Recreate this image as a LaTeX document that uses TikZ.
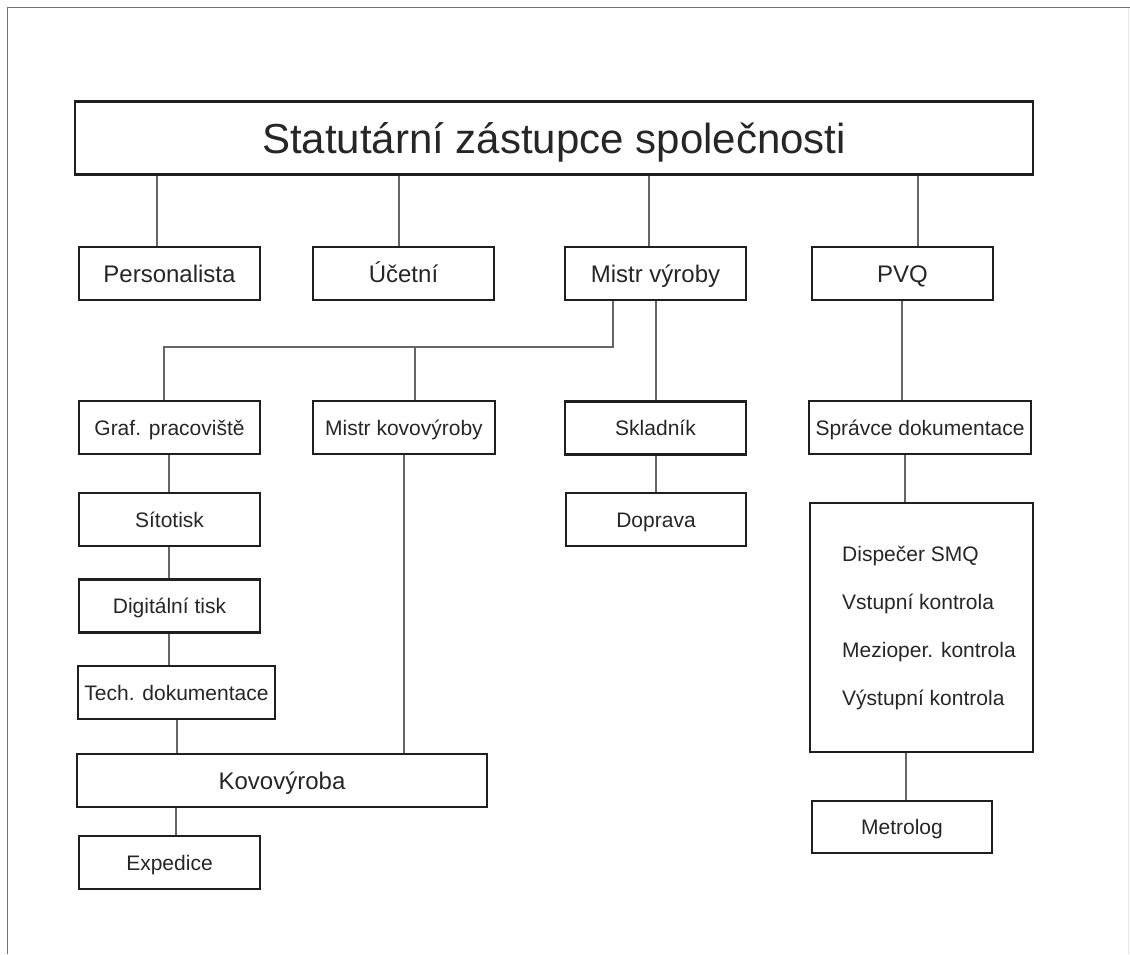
\documentclass[tikz,border=0pt]{standalone}
\usepackage{fontspec}
\setmainfont{Liberation Sans}
\begin{document}
\begin{tikzpicture}[x=1pt,y=-1pt,
  box/.style={draw=black!88,line width=2.6pt,inner sep=0pt,rectangle,text=black!85},
  big/.style={font=\fontsize{24}{28}\selectfont,text height=17.2pt,text depth=0pt},
  small/.style={font=\fontsize{21}{25}\selectfont,text height=15.1pt,text depth=0pt},
  conn/.style={draw=black!60,line width=1.1pt},
  frame/.style={draw=black!55,line width=1pt}]
\useasboundingbox (0,0) rectangle (1130,954);
\draw[frame] (7,954) -- (7,7) -- (1130,7);
\draw[draw=black!10,line width=0.8pt] (1128,8) -- (1128,954);

\node[box,minimum width=958pt,minimum height=73pt,font=\fontsize{42}{48}\selectfont,text height=30.1pt,text depth=0pt] (title) at (554,138) {Statutární zástupce společnosti};

\node[box,big,minimum width=181pt,minimum height=53pt] (personal) at (169.5,273.5) {Personalista};
\node[box,big,minimum width=181pt,minimum height=53pt] (ucetni) at (403.5,273.5) {Účetní};
\node[box,big,minimum width=181pt,minimum height=53pt] (mistr) at (655.5,273.5) {Mistr výroby};
\node[box,big,minimum width=181pt,minimum height=53pt] (pvq) at (902.5,273.5) {PVQ};

\node[box,small,minimum width=181pt,minimum height=53pt] (graf) at (169.5,427.5) {Graf. pracoviště};
\node[box,small,minimum width=182pt,minimum height=53pt] (mkov) at (404,427.5) {Mistr kovovýroby};
\node[box,small,minimum width=181pt,minimum height=53pt] (sklad) at (655.5,428) {Skladník};
\node[box,small,minimum width=222pt,minimum height=53pt] (spravce) at (920,427.5) {Správce dokumentace};

\node[box,small,minimum width=181pt,minimum height=53pt] (sito) at (169.5,519.5) {Sítotisk};
\node[box,small,minimum width=181pt,minimum height=53pt] (digi) at (169.5,606) {Digitální tisk};
\node[box,small,minimum width=197pt,minimum height=53pt] (tech) at (176.5,692.5) {Tech. dokumentace};
\node[box,big,minimum width=410pt,minimum height=53pt] (kovo) at (282,780.5) {Kovovýroba};
\node[box,small,minimum width=181pt,minimum height=53pt] (exped) at (169.5,862.5) {Expedice};

\node[box,small,minimum width=180pt,minimum height=53pt] (doprava) at (656,519.5) {Doprava};

\node[box,minimum width=223pt,minimum height=249pt] (smq) at (921.5,627.5) {};
\node[small,anchor=base west,inner sep=0pt,text=black!85] (t1) at (842,561.5) {Dispečer SMQ};
\node[small,anchor=base west,inner sep=0pt,text=black!85] (t2) at (842,609.5) {Vstupní kontrola};
\node[small,anchor=base west,inner sep=0pt,text=black!85] (t3) at (842,657.5) {Mezioper. kontrola};
\node[small,anchor=base west,inner sep=0pt,text=black!85] (t4) at (842,705.5) {Výstupní kontrola};

\node[box,small,minimum width=180pt,minimum height=52pt] (metro) at (902,827) {Metrolog};

% junction coordinates
\coordinate (j1) at (613,347);
\coordinate (j2) at (164,347);
\coordinate (j3) at (415,347);

\draw[conn] (title.south -| 157,0) -- (personal.north -| 157,0);
\draw[conn] (title.south -| 399,0) -- (ucetni.north -| 399,0);
\draw[conn] (title.south -| 649,0) -- (mistr.north -| 649,0);
\draw[conn] (title.south -| 918,0) -- (pvq.north -| 918,0);

\draw[conn] (mistr.south -| j1) -- (j1) -- (j2) -- (graf.north -| j2);
\draw[conn] (j3) -- (mkov.north -| j3);
\draw[conn] (mistr.south -| 656,0) -- (sklad.north -| 656,0);
\draw[conn] (sklad.south -| 656,0) -- (doprava.north -| 656,0);

\draw[conn] (graf.south -| 169,0) -- (sito.north -| 169,0);
\draw[conn] (sito.south -| 169,0) -- (digi.north -| 169,0);
\draw[conn] (digi.south -| 169,0) -- (tech.north -| 169,0);
\draw[conn] (tech.south -| 177,0) -- (kovo.north -| 177,0);
\draw[conn] (mkov.south -| 404,0) -- (kovo.north -| 404,0);
\draw[conn] (kovo.south -| 176,0) -- (exped.north -| 176,0);

\draw[conn] (pvq.south -| 902,0) -- (spravce.north -| 902,0);
\draw[conn] (spravce.south -| 905,0) -- (smq.north -| 905,0);
\draw[conn] (smq.south -| 906,0) -- (metro.north -| 906,0);
\end{tikzpicture}
\end{document}
